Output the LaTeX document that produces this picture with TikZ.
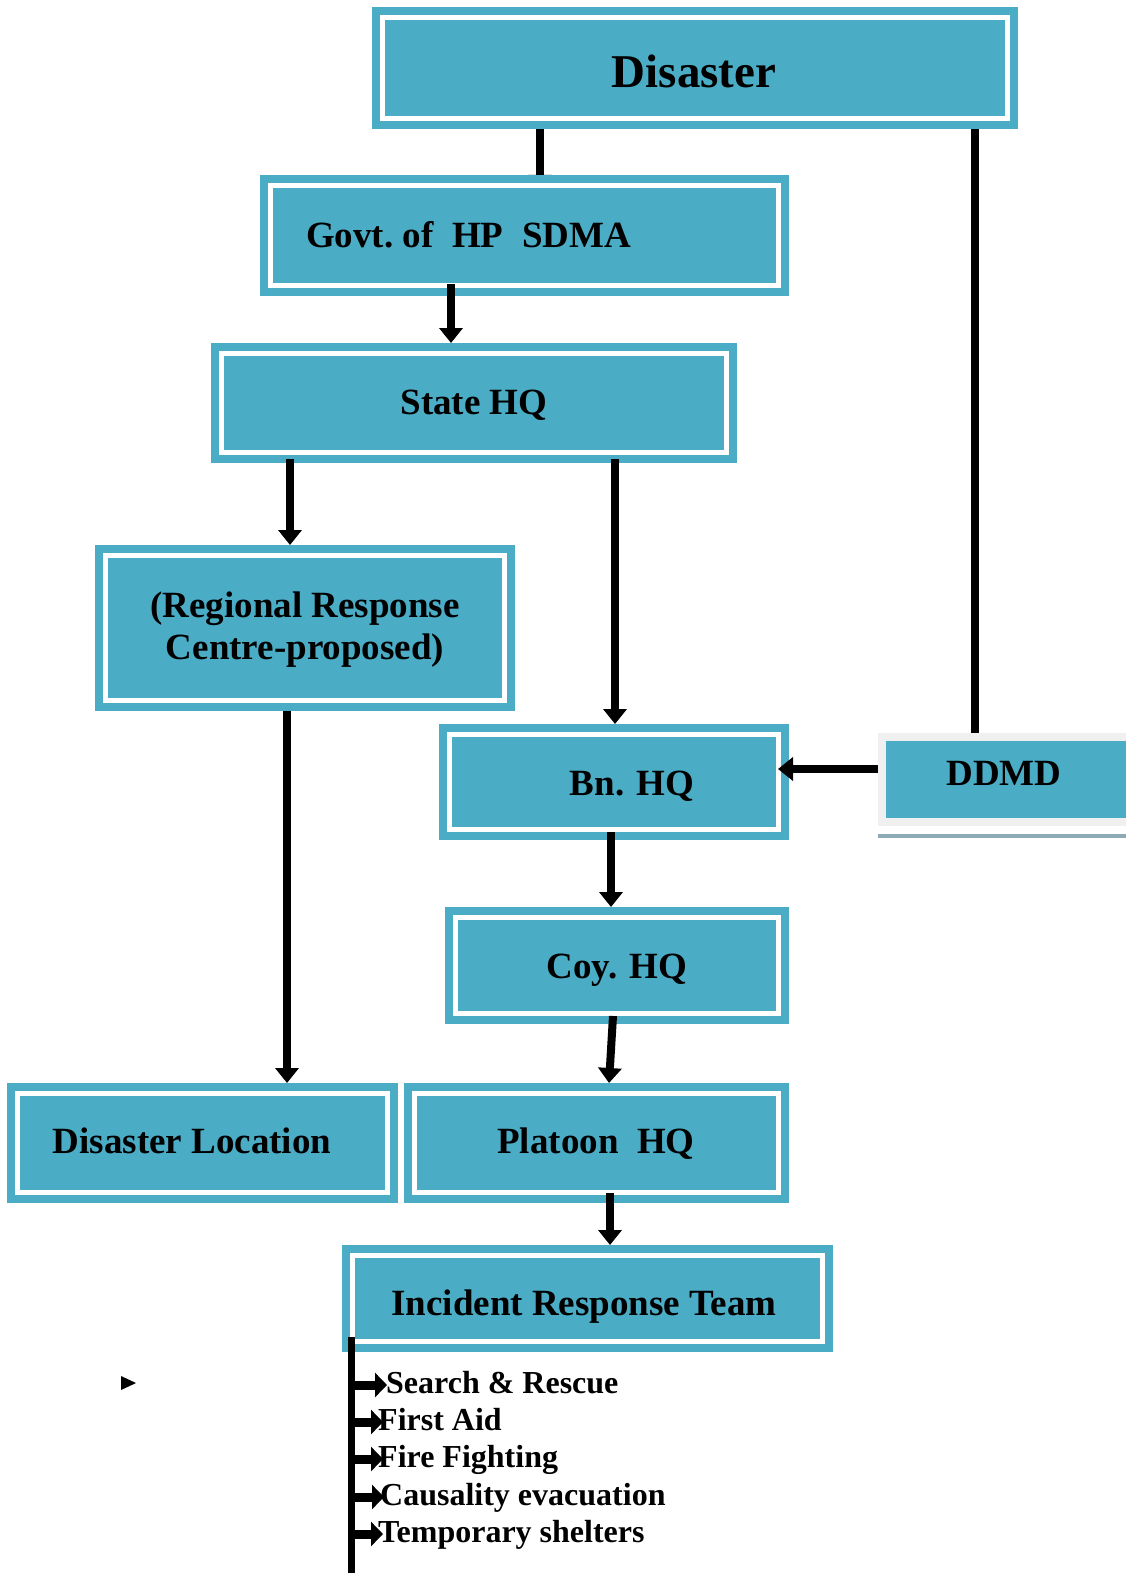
\documentclass[tikz,border=0pt]{standalone}
\usepackage{fontspec}
\setmainfont{Liberation Serif}
\usetikzlibrary{arrows.meta,calc}
\definecolor{boxteal}{HTML}{4BACC6}
\definecolor{ddmdrim}{HTML}{F0F0F0}
\definecolor{ddmdshade}{HTML}{8EAAB4}
\pgfdeclarelayer{behind}
\pgfsetlayers{behind,main}

\begin{document}
\begin{tikzpicture}[x=1pt,y=-1pt,
  box/.style={fill=boxteal, draw=boxteal, line width=8pt, double=white,
    double distance=5pt, inner sep=0pt, outer sep=10.5pt, anchor=north west},
  lbl/.style={font=\bfseries\fontsize{37}{42}\selectfont, inner sep=0pt, anchor=base},
  item/.style={font=\bfseries\fontsize{32}{36}\selectfont, inner sep=0pt, anchor=base west},
  conn/.style={line width=8pt, -{Triangle[length=15pt,width=23pt]}},
  plain/.style={line width=8pt},
  tick/.style={line width=9pt, -{Triangle[length=12pt,width=24pt]}}
]
\useasboundingbox (0,0) rectangle (1126,1573);

% boxes
\node[box, minimum width=625, minimum height=101] (disaster) at (372,7) {};
\node[box, minimum width=508, minimum height=100] (govt) at (260,175) {};
\node[box, minimum width=505, minimum height=99] (state) at (211,343) {};
\node[box, minimum width=399, minimum height=145] (regional) at (95,545) {};
\node[box, minimum width=329, minimum height=95] (bn) at (439,724) {};
\node[box, minimum width=323, minimum height=96] (coy) at (445,907) {};
\node[box, minimum width=370, minimum height=99] (dloc) at (7,1083) {};
\node[box, minimum width=364, minimum height=99] (platoon) at (404,1083) {};
\node[box, minimum width=470, minimum height=86] (irt) at (342,1245) {};

% DDMD box, cut by the right edge
\node[fill=boxteal, draw=ddmdrim, line width=8pt, inner sep=0pt, outer sep=4pt,
  anchor=north west, minimum width=249, minimum height=85] (ddmd) at (878,733) {};
\fill[ddmdshade] (878,834) rectangle (1126,838);

% labels
\node[lbl, font=\bfseries\fontsize{47}{50}\selectfont] (t-disaster) at (694,88) {Disaster};
\node[lbl, anchor=base west] (t-govt) at (306,247) {Govt.\ of~~HP~~SDMA};
\node[lbl] (t-state) at (474,414) {State HQ};
\node[lbl] (t-reg1) at (305,617) {(Regional Response};
\node[lbl] (t-reg2) at (305,659) {Centre-proposed)};
\node[lbl] (t-bn) at (632,795) {Bn. HQ};
\node[lbl] (t-ddmd) at (1004,785) {DDMD};
\node[lbl] (t-coy) at (617,978) {Coy. HQ};
\node[lbl] (t-dloc) at (192,1153) {Disaster Location};
\node[lbl] (t-platoon) at (596,1153) {Platoon~~HQ};
\node[lbl] (t-irt) at (584,1315) {Incident Response Team};

% connectors
\begin{pgfonlayer}{behind}
  % its head sits under the SDMA box
  \draw[conn, shorten >=-15pt] (disaster.south -| 540,0) -- (govt.north -| 540,0);
\end{pgfonlayer}
\draw[conn] ($(govt.south -| 451,0)+(0,-12)$) -- (state.north -| 451,0);
\draw[conn] ($(state.south -| 290,0)+(0,-4)$) -- (regional.north -| 290,0);
\draw[conn] ($(state.south -| 615,0)+(0,-4)$) -- (bn.north -| 615,0);
\draw[conn] (regional.south -| 287,0) -- (dloc.north -| 287,0);
\draw[conn] ($(bn.south -| 611,0)+(0,-8)$) -- (coy.north -| 611,0);
\draw[conn] ($(coy.south -| 613,0)+(0,-8)$) -- (platoon.north -| 609,0);
\draw[conn] ($(platoon.south -| 610,0)+(0,-10)$) -- (irt.north -| 610,0);
\draw[plain] (disaster.south -| 975,0) -- (ddmd.north -| 975,0);
\draw[conn, shorten >=-11pt] (ddmd.west |- 0,769) -- (bn.east |- 0,769);

% task list under the response team
\coordinate (trunktop) at ($(irt.south west)+(9,-15)$);
\coordinate (trunkbot) at (351,1573);
\draw[line width=7pt] (trunktop) -- (trunkbot);

\node[item] (i1) at (386,1393) {Search \& Rescue};
\node[item] (i2) at (378,1430) {First Aid};
\node[item] (i3) at (378,1467) {Fire Fighting};
\node[item] (i4) at (380,1505) {Causality evacuation};
\node[item] (i5) at (378,1542) {Temporary shelters};

\foreach \n/\y/\tip in {1/1385/387, 2/1422/383, 3/1459/383, 4/1497/384, 5/1534/383}{
  \coordinate (b\n) at (trunktop |- 0,\y);
  \coordinate (e\n) at (\tip,\y);
  \draw[tick] (b\n) -- (e\n);
}

% stray bullet mark
\fill (121,1376) -- (136,1383) -- (121,1390) -- cycle;
\end{tikzpicture}
\end{document}
